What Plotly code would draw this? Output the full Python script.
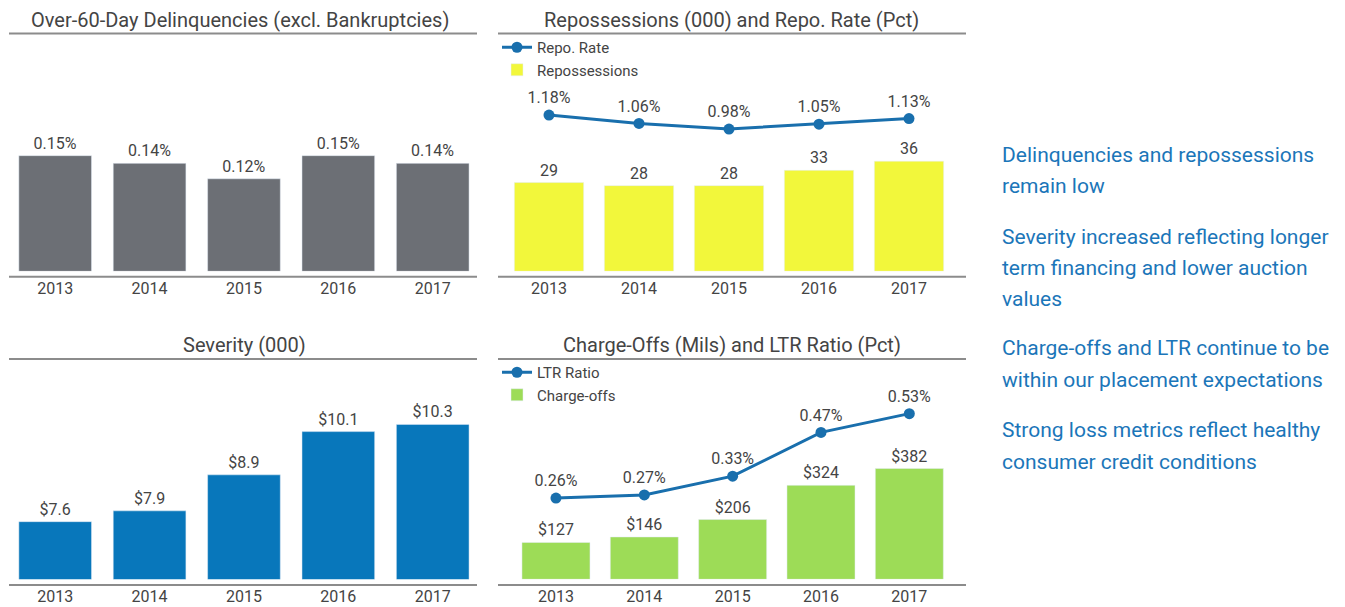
import plotly.graph_objects as go

W, H = 1345, 607
OFF = 8  # default body margin of the page
YEARS = ['2013', '2014', '2015', '2016', '2017']
DELINQ = [0.15, 0.14, 0.12, 0.15, 0.14]
REPOS = [29, 28, 28, 33, 36]
REPO_RATE = [1.18, 1.06, 0.98, 1.05, 1.13]
SEVERITY = [7.6, 7.9, 8.9, 10.1, 10.3]
CHARGE_OFFS = [127, 146, 206, 324, 382]
LTR = [0.26, 0.27, 0.33, 0.47, 0.53]
BULLETS = [
    ['Delinquencies and repossessions', 'remain low'],
    ['Severity increased reflecting longer', 'term financing and lower auction', 'values'],
    ['Charge-offs and LTR continue to be', 'within our placement expectations'],
    ['Strong loss metrics reflect healthy', 'consumer credit conditions'],
]

GRAY, YELLOW, BLUE, GREEN = '#6c6f75', '#f2f73b', '#0877bb', '#9ddc57'
LINE, TXT, RULE, BLUE_TXT = '#196fad', '#444444', '#8c8c8c', '#1b76b9'
FONT = 'Roboto, Arial, sans-serif'
FW, FH = W - OFF, H - OFF


def px_x(v):
    return max(0.0, (v - OFF) / FW)


def px_y(v):
    return 1 - (v - OFF) / FH


fig = go.Figure()
lbl = dict(size=16, color=TXT, family=FONT)

fig.add_trace(go.Bar(x=YEARS, y=DELINQ, marker_color=GRAY, texttemplate='%{y:.2f}%',
                     textposition='outside', textfont=lbl, showlegend=False,
                     xaxis='x', yaxis='y', cliponaxis=False))

fig.add_trace(go.Bar(x=YEARS, y=REPOS, marker_color=YELLOW, texttemplate='%{y}',
                     textposition='outside', textfont=lbl, name='Repossessions',
                     legend='legend', legendrank=2, xaxis='x2', yaxis='y2', cliponaxis=False))
fig.add_trace(go.Scatter(x=YEARS, y=REPO_RATE, mode='lines+markers+text', name='Repo. Rate',
                         line=dict(color=LINE, width=3), marker=dict(size=11, color=LINE),
                         texttemplate='%{y:.2f}%', textposition='top center', textfont=lbl,
                         legend='legend', legendrank=1, xaxis='x2', yaxis='y5', cliponaxis=False))

fig.add_trace(go.Bar(x=YEARS, y=SEVERITY, marker_color=BLUE, texttemplate='$%{y:.1f}',
                     textposition='outside', textfont=lbl, showlegend=False,
                     xaxis='x3', yaxis='y3', cliponaxis=False))

fig.add_trace(go.Bar(x=YEARS, y=CHARGE_OFFS, marker_color=GREEN, texttemplate='$%{y}',
                     textposition='outside', textfont=lbl, name='Charge-offs',
                     legend='legend2', legendrank=2, xaxis='x4', yaxis='y4', cliponaxis=False))
fig.add_trace(go.Scatter(x=YEARS, y=LTR, mode='lines+markers+text', name='LTR Ratio',
                         line=dict(color=LINE, width=3), marker=dict(size=11, color=LINE),
                         texttemplate='%{y:.2f}%', textposition='top center', textfont=lbl,
                         legend='legend2', legendrank=1, xaxis='x4', yaxis='y6', cliponaxis=False))

xax = dict(showgrid=False, zeroline=False, showline=False, ticks='', ticklabelstandoff=6,
           tickfont=dict(size=16, color=TXT, family=FONT), fixedrange=True)
yax = dict(visible=False, showgrid=False, zeroline=False, fixedrange=True)
top_dom = [px_y(271.3), px_y(40)]
bot_dom = [px_y(579.3), px_y(370)]
leg = dict(xanchor='left', yanchor='top', bgcolor='rgba(0,0,0,0)',
           font=dict(size=15, color=TXT, family=FONT), traceorder='normal', itemwidth=30,
           tracegroupgap=0)

fig.update_layout(
    width=FW, height=FH, autosize=False, margin=dict(l=0, r=0, t=0, b=0),
    paper_bgcolor='white', plot_bgcolor='white', font=dict(family=FONT, color=TXT),
    bargap=0.23,
    xaxis=dict(xax, domain=[px_x(8), px_x(479.9)], anchor='y'),
    yaxis=dict(yax, domain=top_dom, range=[0, 0.30], anchor='x'),
    xaxis2=dict(xax, domain=[px_x(504), px_x(954)], anchor='y2'),
    yaxis2=dict(yax, domain=top_dom, range=[0, 75.6], anchor='x2'),
    yaxis5=dict(yax, overlaying='y2', anchor='x2', range=[-1.059, 2.256]),
    xaxis3=dict(xax, domain=[px_x(8), px_x(479.9)], anchor='y3'),
    yaxis3=dict(yax, domain=bot_dom, range=[6.0, 11.81], anchor='x3'),
    xaxis4=dict(xax, domain=[px_x(511.8), px_x(953.5)], anchor='y4'),
    yaxis4=dict(yax, domain=bot_dom, range=[0, 721.7], anchor='x4'),
    yaxis6=dict(yax, overlaying='y4', anchor='x4', range=[0, 0.6696]),
    legend=dict(leg, x=px_x(497), y=px_y(31)),
    legend2=dict(leg, x=px_x(497), y=px_y(356)),
)

# rules under titles and under bars
for x0, x1, ys in [(9, 477, (33.5, 276.7)), (498, 966, (33.5, 276.7)),
                   (9, 477, (359, 585)), (498, 966, (359, 585))]:
    for yy in ys:
        fig.add_shape(type='line', xref='paper', yref='paper', x0=px_x(x0), x1=px_x(x1),
                      y0=px_y(yy), y1=px_y(yy), line=dict(color=RULE, width=2))

titles = [('Over-60-Day Delinquencies (excl. Bankruptcies)', 240, 20),
          ('Repossessions (000) and Repo. Rate (Pct)', 731, 20),
          ('Severity (000)', 244, 345),
          ('Charge-Offs (Mils) and LTR Ratio (Pct)', 732, 345)]
for text, cx, cy in titles:
    fig.add_annotation(text=text, xref='paper', yref='paper', x=px_x(cx), y=px_y(cy),
                       xanchor='center', yanchor='middle', showarrow=False,
                       font=dict(size=20, color=TXT, family=FONT))

line_y = [[155, 186.5], [236.5, 267.5, 299], [348.5, 380], [430, 461.5]]
for lines, ys in zip(BULLETS, line_y):
    for t, yy in zip(lines, ys):
        fig.add_annotation(text=t, xref='paper', yref='paper', x=px_x(1000), y=px_y(yy),
                           xanchor='left', yanchor='middle', showarrow=False,
                           font=dict(size=21, color=BLUE_TXT, family=FONT))

fig.write_html('out.html')
